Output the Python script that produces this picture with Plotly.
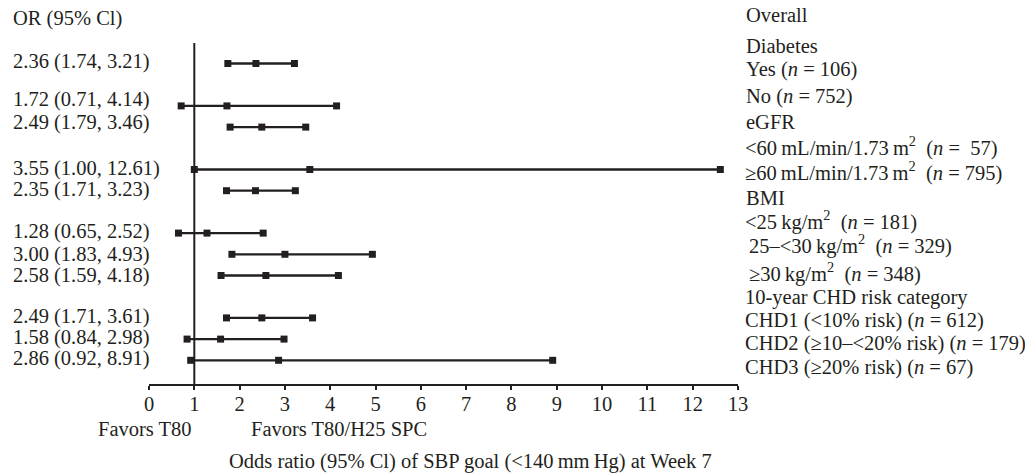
import plotly.graph_objects as go

# ---- data ----
or_est = [2.36, 1.72, 2.49, 3.55, 2.35, 1.28, 3.00, 2.58, 2.49, 1.58, 2.86]
ci_lo = [1.74, 0.71, 1.79, 1.00, 1.71, 0.65, 1.83, 1.59, 1.71, 0.84, 0.92]
ci_hi = [3.21, 4.14, 3.46, 12.61, 3.23, 2.52, 4.93, 4.18, 3.61, 2.98, 8.91]

right_labels = [
    "Overall",
    "Diabetes",
    "Yes (<i>n</i> = 106)",
    "No (<i>n</i> = 752)",
    "eGFR",
    "&lt;60\u2009mL/min/1.73\u2009m<sup>2</sup>  (<i>n</i> =  57)",
    "≥60\u2009mL/min/1.73\u2009m<sup>2</sup>  (<i>n</i> = 795)",
    "BMI",
    "&lt;25\u2009kg/m<sup>2</sup>  (<i>n</i> = 181)",
    "25–&lt;30\u2009kg/m<sup>2</sup>  (<i>n</i> = 329)",
    "≥30\u2009kg/m<sup>2</sup>  (<i>n</i> = 348)",
    "10-year CHD risk category",
    "CHD1 (&lt;10% risk) (<i>n</i> = 612)",
    "CHD2 (≥10–&lt;20% risk) (<i>n</i> = 179)",
    "CHD3 (≥20% risk) (<i>n</i> = 67)",
]
x_ticks = list(range(0, 14))
left_header = "OR (95% Cl)"
favors_left = "Favors T80"
favors_right = "Favors T80/H25 SPC"
x_title = "Odds ratio (95% Cl) of SBP goal (&lt;140\u2009mm\u2009Hg) at Week 7"

# ---- layout helpers (row slots, label positions in page pixels) ----
OFF = 8                       # default page body margin
row_slot = [0, 2, 3, 5, 6, 8, 9, 10, 12, 13, 14]
Y0, DY = 63.5, 21.2           # page pixel of slot 0, pixels per slot
W, H = 1033 - OFF, 474 - OFF
L = 149 - OFF
RIGHT = 738 - OFF
TOP, BOT = 43 - OFF, 384 - OFF
R = W - RIGHT
PW, PH = RIGHT - L, BOT - TOP

def px2slot(p):               # page pixel y -> slot
    return (p - Y0) / DY
def px2px(p):                 # page pixel x -> paper x
    return (p - OFF - L) / PW
def py2py(p):                 # page pixel y -> paper y
    return (BOT - (p - OFF)) / PH

left_px = [62, 100, 122, 168, 190, 232, 254, 275, 316, 337, 358]
right_px = [15, 46, 69, 96, 122, 146, 171, 198, 220, 245, 272, 297, 320, 343, 367]
right_xpx = [744, 744, 744, 744, 744, 743, 743, 744, 743, 747, 747, 743, 743, 743, 743]

INK = "#231f20"
FONT = "Liberation Serif"
FS = 20.5

xs, ys = [], []
for lo, est, hi, s in zip(ci_lo, or_est, ci_hi, row_slot):
    xs += [lo, est, hi, None]
    ys += [s, s, s, None]

fig = go.Figure()
fig.add_trace(go.Scatter(
    x=xs, y=ys, mode="lines+markers",
    line=dict(color=INK, width=2.3),
    marker=dict(symbol="square", size=7, color=INK),
    cliponaxis=False, hoverinfo="skip", showlegend=False,
))

# reference line at OR = 1
fig.add_shape(type="line", xref="x", yref="paper", x0=1, x1=1, y0=0, y1=1,
              line=dict(color=INK, width=2))

ann = []
fs = dict(family=FONT, size=FS, color=INK)
def add(text, xp, yp, xanchor="left"):
    ann.append(dict(text=text, x=px2px(xp), xref="paper", y=py2py(yp), yref="paper",
                    xanchor=xanchor, yanchor="middle", showarrow=False, font=fs))

add(left_header, 11, 18)
for est, lo, hi, p in zip(or_est, ci_lo, ci_hi, left_px):
    add(f"{est:.2f} ({lo:.2f}, {hi:.2f})", 11, p)
for t, p, xp in zip(right_labels, right_px, right_xpx):
    add(t, xp, p)
add(favors_left, 145, 429, "center")
add(favors_right, 338.5, 429, "center")
add(x_title, 470.5, 461, "center")

fig.update_layout(
    width=W, height=H,
    margin=dict(l=L, r=R, t=TOP, b=H - BOT, pad=0, autoexpand=False),
    paper_bgcolor="white", plot_bgcolor="white",
    annotations=ann,
    xaxis=dict(range=[0, 13], tickvals=x_ticks, ticktext=[str(v) for v in x_ticks],
               showgrid=False, zeroline=False, showline=True, linecolor=INK, linewidth=2,
               ticks="outside", ticklen=4, tickwidth=1.5, tickcolor=INK,
               ticklabelstandoff=-4, automargin=False,
               tickfont=dict(family=FONT, size=FS, color=INK), fixedrange=True),
    yaxis=dict(range=[px2slot(BOT + OFF), px2slot(TOP + OFF)], visible=False,
               showgrid=False, zeroline=False, fixedrange=True, automargin=False),
    font=dict(family=FONT, size=FS, color=INK),
)

fig.write_html("out.html")
